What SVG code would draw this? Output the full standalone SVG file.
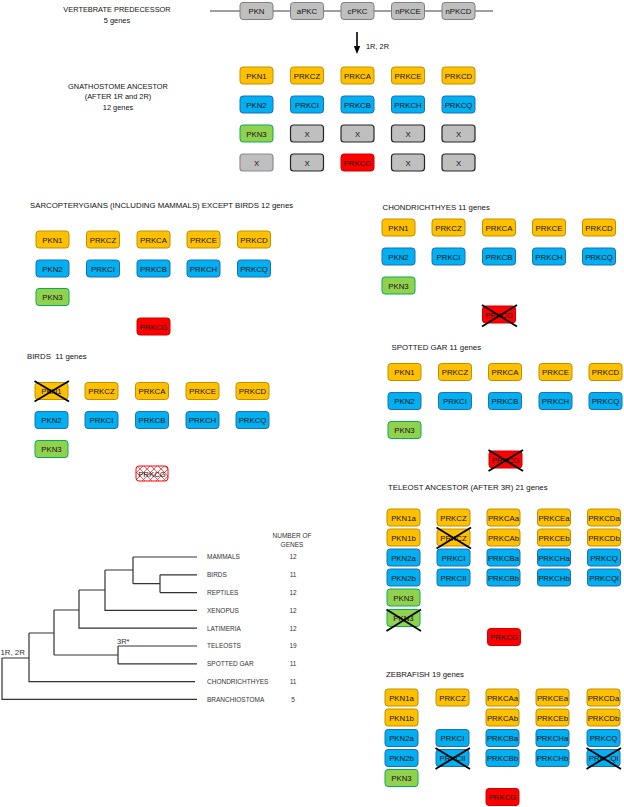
<svg xmlns="http://www.w3.org/2000/svg" width="624" height="807" viewBox="0 0 624 807">
<style>
.o{fill:#FFC000;stroke:#BF9000;stroke-width:1}
.b{fill:#00B0F0;stroke:#1F6FB5;stroke-width:1}
.g{fill:#92D050;stroke:#00B050;stroke-width:1}
.r{fill:#FF0000;stroke:#D00000;stroke-width:1}
.h{fill:url(#hatch);stroke:#FF0000;stroke-width:1}
.gr{fill:#BFBFBF;stroke:#7F7F7F;stroke-width:1}
.gx{fill:#BFBFBF;stroke:#262626;stroke-width:1.2}
.gl{fill:#BFBFBF;stroke:#8C8C8C;stroke-width:1.2}
text{font-family:"Liberation Sans",Arial,sans-serif}
.t{font-size:7.8px;text-anchor:middle;fill:#111}
.ti{font-size:7.8px;fill:#111;white-space:pre}
.tc{font-size:7.4px;fill:#111;text-anchor:middle}
.x{stroke:#000;stroke-width:1.8}
.tl{font-size:6.5px;fill:#333}
.tn{font-size:6.5px;fill:#333;text-anchor:middle}
.tr{fill:none;stroke:#333;stroke-width:1.2}
</style>
<defs>
<pattern id="hatch" width="7" height="7" patternUnits="userSpaceOnUse">
<rect width="7" height="7" fill="#fff"/>
<path d="M0,0 L7,7 M7,0 L0,7" stroke="#FF3030" stroke-width="0.8"/>
</pattern>
</defs>

<!-- Titles -->
<text class="tc" x="117" y="12">VERTEBRATE PREDECESSOR</text>
<text class="tc" x="117" y="22.5">5 genes</text>
<text class="tc" x="118" y="88.5">GNATHOSTOME ANCESTOR</text>
<text class="tc" x="118" y="99">(AFTER 1R and 2R)</text>
<text class="tc" x="118" y="110">12 genes</text>
<text class="ti" x="30" y="207.5">SARCOPTERYGIANS (INCLUDING MAMMALS) EXCEPT BIRDS 12 genes</text>
<text class="ti" x="27" y="358.5">BIRDS  11 genes</text>
<text class="ti" x="382.5" y="209.5">CHONDRICHTHYES 11 genes</text>
<text class="ti" x="391.5" y="349.5">SPOTTED GAR 11 genes</text>
<text class="ti" x="388" y="489.5">TELEOST ANCESTOR (AFTER 3R) 21 genes</text>
<text class="ti" x="386" y="677">ZEBRAFISH 19 genes</text>

<!-- Connectors -->
<g id="connectors">
<line x1="210" y1="11" x2="493" y2="11" stroke="#404040" stroke-width="1.2"/>
<line x1="357" y1="32" x2="357" y2="47" stroke="#000" stroke-width="1.6"/>
<polygon points="353.8,46 360.2,46 357,54" fill="#000"/>
<text x="366" y="48.5" style="font-size:7.4px;fill:#111">1R, 2R</text>
</g>

<!-- Vertebrate predecessor -->
<g id="vp-PKN"><rect class="gr" x="240" y="2.5" width="33" height="17" rx="3"/><text class="t" x="256.5" y="14">PKN</text></g>
<g id="vp-aPKC"><rect class="gr" x="290.5" y="2.5" width="33" height="17" rx="3"/><text class="t" x="307" y="14">aPKC</text></g>
<g id="vp-cPKC"><rect class="gr" x="341" y="2.5" width="33" height="17" rx="3"/><text class="t" x="357.5" y="14">cPKC</text></g>
<g id="vp-nPKCE"><rect class="gr" x="391.5" y="2.5" width="33" height="17" rx="3"/><text class="t" x="408" y="14">nPKCE</text></g>
<g id="vp-nPKCD"><rect class="gr" x="442" y="2.5" width="33" height="17" rx="3"/><text class="t" x="458.5" y="14">nPKCD</text></g>

<!-- Gnathostome ancestor -->
<g id="gn-PKN1"><rect class="o" x="240" y="67" width="33" height="17" rx="3"/><text class="t" x="256.5" y="78.5">PKN1</text></g>
<g id="gn-PRKCZ"><rect class="o" x="290.5" y="67" width="33" height="17" rx="3"/><text class="t" x="307" y="78.5">PRKCZ</text></g>
<g id="gn-PRKCA"><rect class="o" x="341" y="67" width="33" height="17" rx="3"/><text class="t" x="357.5" y="78.5">PRKCA</text></g>
<g id="gn-PRKCE"><rect class="o" x="391.5" y="67" width="33" height="17" rx="3"/><text class="t" x="408" y="78.5">PRKCE</text></g>
<g id="gn-PRKCD"><rect class="o" x="442" y="67" width="33" height="17" rx="3"/><text class="t" x="458.5" y="78.5">PRKCD</text></g>
<g id="gn-PKN2"><rect class="b" x="240" y="96" width="33" height="17" rx="3"/><text class="t" x="256.5" y="107.5">PKN2</text></g>
<g id="gn-PRKCI"><rect class="b" x="290.5" y="96" width="33" height="17" rx="3"/><text class="t" x="307" y="107.5">PRKCI</text></g>
<g id="gn-PRKCB"><rect class="b" x="341" y="96" width="33" height="17" rx="3"/><text class="t" x="357.5" y="107.5">PRKCB</text></g>
<g id="gn-PRKCH"><rect class="b" x="391.5" y="96" width="33" height="17" rx="3"/><text class="t" x="408" y="107.5">PRKCH</text></g>
<g id="gn-PRKCQ"><rect class="b" x="442" y="96" width="33" height="17" rx="3"/><text class="t" x="458.5" y="107.5">PRKCQ</text></g>
<g id="gn-PKN3"><rect class="g" x="240" y="125" width="33" height="17" rx="3"/><text class="t" x="256.5" y="136.5">PKN3</text></g>
<g id="gn-x1"><rect class="gx" x="290.5" y="125" width="33" height="17" rx="3"/><text class="t" x="307" y="136.5">X</text></g>
<g id="gn-x2"><rect class="gx" x="341" y="125" width="33" height="17" rx="3"/><text class="t" x="357.5" y="136.5">X</text></g>
<g id="gn-x3"><rect class="gx" x="391.5" y="125" width="33" height="17" rx="3"/><text class="t" x="408" y="136.5">X</text></g>
<g id="gn-x4"><rect class="gx" x="442" y="125" width="33" height="17" rx="3"/><text class="t" x="458.5" y="136.5">X</text></g>
<g id="gn-x5"><rect class="gl" x="240" y="154" width="33" height="17" rx="3"/><text class="t" x="256.5" y="165.5">X</text></g>
<g id="gn-x6"><rect class="gx" x="290.5" y="154" width="33" height="17" rx="3"/><text class="t" x="307" y="165.5">X</text></g>
<g id="gn-PRKCG"><rect class="r" x="341" y="154" width="33" height="17" rx="3"/><text class="t" x="357.5" y="165.5">PRKCG</text></g>
<g id="gn-x7"><rect class="gx" x="391.5" y="154" width="33" height="17" rx="3"/><text class="t" x="408" y="165.5">X</text></g>
<g id="gn-x8"><rect class="gx" x="442" y="154" width="33" height="17" rx="3"/><text class="t" x="458.5" y="165.5">X</text></g>

<!-- Sarcopterygians -->
<g id="sa-PKN1"><rect class="o" x="36" y="231" width="33" height="17" rx="3"/><text class="t" x="52.5" y="242.5">PKN1</text></g>
<g id="sa-PRKCZ"><rect class="o" x="86.5" y="231" width="33" height="17" rx="3"/><text class="t" x="103" y="242.5">PRKCZ</text></g>
<g id="sa-PRKCA"><rect class="o" x="137" y="231" width="33" height="17" rx="3"/><text class="t" x="153.5" y="242.5">PRKCA</text></g>
<g id="sa-PRKCE"><rect class="o" x="187" y="231" width="33" height="17" rx="3"/><text class="t" x="203.5" y="242.5">PRKCE</text></g>
<g id="sa-PRKCD"><rect class="o" x="237.5" y="231" width="33" height="17" rx="3"/><text class="t" x="254" y="242.5">PRKCD</text></g>
<g id="sa-PKN2"><rect class="b" x="36" y="260" width="33" height="17" rx="3"/><text class="t" x="52.5" y="271.5">PKN2</text></g>
<g id="sa-PRKCI"><rect class="b" x="86.5" y="260" width="33" height="17" rx="3"/><text class="t" x="103" y="271.5">PRKCI</text></g>
<g id="sa-PRKCB"><rect class="b" x="137" y="260" width="33" height="17" rx="3"/><text class="t" x="153.5" y="271.5">PRKCB</text></g>
<g id="sa-PRKCH"><rect class="b" x="187" y="260" width="33" height="17" rx="3"/><text class="t" x="203.5" y="271.5">PRKCH</text></g>
<g id="sa-PRKCQ"><rect class="b" x="237.5" y="260" width="33" height="17" rx="3"/><text class="t" x="254" y="271.5">PRKCQ</text></g>
<g id="sa-PKN3"><rect class="g" x="36" y="288.5" width="33" height="17" rx="3"/><text class="t" x="52.5" y="300">PKN3</text></g>
<g id="sa-PRKCG"><rect class="r" x="137" y="318" width="33" height="17" rx="3"/><text class="t" x="153.5" y="329.5">PRKCG</text></g>

<!-- Birds -->
<g id="bi-PKN1"><rect class="o" x="35" y="382.5" width="33" height="17" rx="3"/><text class="t" x="51.5" y="394">PKN1</text><line class="x" x1="34.5" y1="381" x2="69" y2="401.5"/><line class="x" x1="34.5" y1="401.5" x2="69" y2="381"/></g>
<g id="bi-PRKCZ"><rect class="o" x="85" y="382.5" width="33" height="17" rx="3"/><text class="t" x="101.5" y="394">PRKCZ</text></g>
<g id="bi-PRKCA"><rect class="o" x="135.5" y="382.5" width="33" height="17" rx="3"/><text class="t" x="152" y="394">PRKCA</text></g>
<g id="bi-PRKCE"><rect class="o" x="186" y="382.5" width="33" height="17" rx="3"/><text class="t" x="202.5" y="394">PRKCE</text></g>
<g id="bi-PRKCD"><rect class="o" x="236" y="382.5" width="33" height="17" rx="3"/><text class="t" x="252.5" y="394">PRKCD</text></g>
<g id="bi-PKN2"><rect class="b" x="35" y="411.5" width="33" height="17" rx="3"/><text class="t" x="51.5" y="423">PKN2</text></g>
<g id="bi-PRKCI"><rect class="b" x="85" y="411.5" width="33" height="17" rx="3"/><text class="t" x="101.5" y="423">PRKCI</text></g>
<g id="bi-PRKCB"><rect class="b" x="135.5" y="411.5" width="33" height="17" rx="3"/><text class="t" x="152" y="423">PRKCB</text></g>
<g id="bi-PRKCH"><rect class="b" x="186" y="411.5" width="33" height="17" rx="3"/><text class="t" x="202.5" y="423">PRKCH</text></g>
<g id="bi-PRKCQ"><rect class="b" x="236" y="411.5" width="33" height="17" rx="3"/><text class="t" x="252.5" y="423">PRKCQ</text></g>
<g id="bi-PKN3"><rect class="g" x="35" y="440.5" width="33" height="17" rx="3"/><text class="t" x="51.5" y="452">PKN3</text></g>
<g id="bi-PRKCG"><rect class="h" x="136" y="466" width="32" height="15" rx="3"/><text class="t" x="152" y="476.5">PRKCG</text></g>

<!-- Chondrichthyes -->
<g id="ch-PKN1"><rect class="o" x="382" y="219" width="33" height="17" rx="3"/><text class="t" x="398.5" y="230.5">PKN1</text></g>
<g id="ch-PRKCZ"><rect class="o" x="432" y="219" width="33" height="17" rx="3"/><text class="t" x="448.5" y="230.5">PRKCZ</text></g>
<g id="ch-PRKCA"><rect class="o" x="482.5" y="219" width="33" height="17" rx="3"/><text class="t" x="499" y="230.5">PRKCA</text></g>
<g id="ch-PRKCE"><rect class="o" x="532.5" y="219" width="33" height="17" rx="3"/><text class="t" x="549" y="230.5">PRKCE</text></g>
<g id="ch-PRKCD"><rect class="o" x="582.5" y="219" width="33" height="17" rx="3"/><text class="t" x="599" y="230.5">PRKCD</text></g>
<g id="ch-PKN2"><rect class="b" x="382" y="248" width="33" height="17" rx="3"/><text class="t" x="398.5" y="259.5">PKN2</text></g>
<g id="ch-PRKCI"><rect class="b" x="432" y="248" width="33" height="17" rx="3"/><text class="t" x="448.5" y="259.5">PRKCI</text></g>
<g id="ch-PRKCB"><rect class="b" x="482.5" y="248" width="33" height="17" rx="3"/><text class="t" x="499" y="259.5">PRKCB</text></g>
<g id="ch-PRKCH"><rect class="b" x="532.5" y="248" width="33" height="17" rx="3"/><text class="t" x="549" y="259.5">PRKCH</text></g>
<g id="ch-PRKCQ"><rect class="b" x="582.5" y="248" width="33" height="17" rx="3"/><text class="t" x="599" y="259.5">PRKCQ</text></g>
<g id="ch-PKN3"><rect class="g" x="382" y="277" width="33" height="17" rx="3"/><text class="t" x="398.5" y="288.5">PKN3</text></g>
<g id="ch-PRKCG"><rect class="r" x="482.5" y="306" width="33" height="17" rx="3"/><text class="t" x="499" y="317.5">PRKCG</text><line class="x" x1="482" y1="305" x2="517" y2="326.5"/><line class="x" x1="482" y1="326.5" x2="517" y2="305"/></g>

<!-- Spotted gar -->
<g id="sg-PKN1"><rect class="o" x="388" y="363.5" width="33" height="17" rx="3"/><text class="t" x="404.5" y="375">PKN1</text></g>
<g id="sg-PRKCZ"><rect class="o" x="438.5" y="363.5" width="33" height="17" rx="3"/><text class="t" x="455" y="375">PRKCZ</text></g>
<g id="sg-PRKCA"><rect class="o" x="488.5" y="363.5" width="33" height="17" rx="3"/><text class="t" x="505" y="375">PRKCA</text></g>
<g id="sg-PRKCE"><rect class="o" x="539" y="363.5" width="33" height="17" rx="3"/><text class="t" x="555.5" y="375">PRKCE</text></g>
<g id="sg-PRKCD"><rect class="o" x="589" y="363.5" width="33" height="17" rx="3"/><text class="t" x="605.5" y="375">PRKCD</text></g>
<g id="sg-PKN2"><rect class="b" x="388" y="392.5" width="33" height="17" rx="3"/><text class="t" x="404.5" y="404">PKN2</text></g>
<g id="sg-PRKCI"><rect class="b" x="438.5" y="392.5" width="33" height="17" rx="3"/><text class="t" x="455" y="404">PRKCI</text></g>
<g id="sg-PRKCB"><rect class="b" x="488.5" y="392.5" width="33" height="17" rx="3"/><text class="t" x="505" y="404">PRKCB</text></g>
<g id="sg-PRKCH"><rect class="b" x="539" y="392.5" width="33" height="17" rx="3"/><text class="t" x="555.5" y="404">PRKCH</text></g>
<g id="sg-PRKCQ"><rect class="b" x="589" y="392.5" width="33" height="17" rx="3"/><text class="t" x="605.5" y="404">PRKCQ</text></g>
<g id="sg-PKN3"><rect class="g" x="388" y="421.5" width="33" height="17" rx="3"/><text class="t" x="404.5" y="433">PKN3</text></g>
<g id="sg-PRKCG"><rect class="r" x="489" y="451" width="33" height="17" rx="3"/><text class="t" x="505.5" y="462.5">PRKCG</text><line class="x" x1="488.5" y1="450" x2="523" y2="471"/><line class="x" x1="488.5" y1="471" x2="523" y2="450"/></g>

<!-- Teleost ancestor -->
<g id="te-PKN1a"><rect class="o" x="387" y="509" width="33" height="17" rx="3"/><text class="t" x="403.5" y="520.5">PKN1a</text></g>
<g id="te-PRKCZ"><rect class="o" x="437" y="509" width="33" height="17" rx="3"/><text class="t" x="453.5" y="520.5">PRKCZ</text></g>
<g id="te-PRKCAa"><rect class="o" x="487" y="509" width="33" height="17" rx="3"/><text class="t" x="503.5" y="520.5">PRKCAa</text></g>
<g id="te-PRKCEa"><rect class="o" x="537.5" y="509" width="33" height="17" rx="3"/><text class="t" x="554" y="520.5">PRKCEa</text></g>
<g id="te-PRKCDa"><rect class="o" x="587.5" y="509" width="33" height="17" rx="3"/><text class="t" x="604" y="520.5">PRKCDa</text></g>
<g id="te-PKN1b"><rect class="o" x="387" y="529" width="33" height="17" rx="3"/><text class="t" x="403.5" y="540.5">PKN1b</text></g>
<g id="te-PRKCZ2"><rect class="o" x="437" y="529" width="33" height="17" rx="3"/><text class="t" x="453.5" y="540.5">PRKCZ</text><line class="x" x1="436.5" y1="527.5" x2="471" y2="548.5"/><line class="x" x1="436.5" y1="548.5" x2="471" y2="527.5"/></g>
<g id="te-PRKCAb"><rect class="o" x="487" y="529" width="33" height="17" rx="3"/><text class="t" x="503.5" y="540.5">PRKCAb</text></g>
<g id="te-PRKCEb"><rect class="o" x="537.5" y="529" width="33" height="17" rx="3"/><text class="t" x="554" y="540.5">PRKCEb</text></g>
<g id="te-PRKCDb"><rect class="o" x="587.5" y="529" width="33" height="17" rx="3"/><text class="t" x="604" y="540.5">PRKCDb</text></g>
<g id="te-PKN2a"><rect class="b" x="387" y="549" width="33" height="17" rx="3"/><text class="t" x="403.5" y="560.5">PKN2a</text></g>
<g id="te-PRKCI"><rect class="b" x="437" y="549" width="33" height="17" rx="3"/><text class="t" x="453.5" y="560.5">PRKCI</text></g>
<g id="te-PRKCBa"><rect class="b" x="487" y="549" width="33" height="17" rx="3"/><text class="t" x="503.5" y="560.5">PRKCBa</text></g>
<g id="te-PRKCHa"><rect class="b" x="537.5" y="549" width="33" height="17" rx="3"/><text class="t" x="554" y="560.5">PRKCHa</text></g>
<g id="te-PRKCQ"><rect class="b" x="587.5" y="549" width="33" height="17" rx="3"/><text class="t" x="604" y="560.5">PRKCQ</text></g>
<g id="te-PKN2b"><rect class="b" x="387" y="569" width="33" height="17" rx="3"/><text class="t" x="403.5" y="580.5">PKN2b</text></g>
<g id="te-PRKCII"><rect class="b" x="437" y="569" width="33" height="17" rx="3"/><text class="t" x="453.5" y="580.5">PRKCII</text></g>
<g id="te-PRKCBb"><rect class="b" x="487" y="569" width="33" height="17" rx="3"/><text class="t" x="503.5" y="580.5">PRKCBb</text></g>
<g id="te-PRKCHb"><rect class="b" x="537.5" y="569" width="33" height="17" rx="3"/><text class="t" x="554" y="580.5">PRKCHb</text></g>
<g id="te-PRKCQl"><rect class="b" x="587.5" y="569" width="33" height="17" rx="3"/><text class="t" x="604" y="580.5">PRKCQl</text></g>
<g id="te-PKN3"><rect class="g" x="387" y="589" width="33" height="17" rx="3"/><text class="t" x="403.5" y="600.5">PKN3</text></g>
<g id="te-PKN3b"><rect class="g" x="387" y="609.5" width="33" height="17" rx="3"/><text class="t" x="403.5" y="621">PKN3</text><line class="x" x1="386.5" y1="609.5" x2="421" y2="631"/><line class="x" x1="386.5" y1="631" x2="421" y2="609.5"/></g>
<g id="te-PRKCG"><rect class="r" x="487.5" y="628.5" width="33" height="17" rx="3"/><text class="t" x="504" y="640">PRKCG</text></g>

<!-- Zebrafish -->
<g id="zf-PKN1a"><rect class="o" x="385" y="689" width="33" height="17" rx="3"/><text class="t" x="401.5" y="700.5">PKN1a</text></g>
<g id="zf-PRKCZ"><rect class="o" x="436" y="689" width="33" height="17" rx="3"/><text class="t" x="452.5" y="700.5">PRKCZ</text></g>
<g id="zf-PRKCAa"><rect class="o" x="486" y="689" width="33" height="17" rx="3"/><text class="t" x="502.5" y="700.5">PRKCAa</text></g>
<g id="zf-PRKCEa"><rect class="o" x="536" y="689" width="33" height="17" rx="3"/><text class="t" x="552.5" y="700.5">PRKCEa</text></g>
<g id="zf-PRKCDa"><rect class="o" x="587" y="689" width="33" height="17" rx="3"/><text class="t" x="603.5" y="700.5">PRKCDa</text></g>
<g id="zf-PKN1b"><rect class="o" x="385" y="709" width="33" height="17" rx="3"/><text class="t" x="401.5" y="720.5">PKN1b</text></g>
<g id="zf-PRKCAb"><rect class="o" x="486" y="709" width="33" height="17" rx="3"/><text class="t" x="502.5" y="720.5">PRKCAb</text></g>
<g id="zf-PRKCEb"><rect class="o" x="536" y="709" width="33" height="17" rx="3"/><text class="t" x="552.5" y="720.5">PRKCEb</text></g>
<g id="zf-PRKCDb"><rect class="o" x="587" y="709" width="33" height="17" rx="3"/><text class="t" x="603.5" y="720.5">PRKCDb</text></g>
<g id="zf-PKN2a"><rect class="b" x="385" y="729.5" width="33" height="17" rx="3"/><text class="t" x="401.5" y="741">PKN2a</text></g>
<g id="zf-PRKCI"><rect class="b" x="436" y="729.5" width="33" height="17" rx="3"/><text class="t" x="452.5" y="741">PRKCI</text></g>
<g id="zf-PRKCBa"><rect class="b" x="486" y="729.5" width="33" height="17" rx="3"/><text class="t" x="502.5" y="741">PRKCBa</text></g>
<g id="zf-PRKCHa"><rect class="b" x="536" y="729.5" width="33" height="17" rx="3"/><text class="t" x="552.5" y="741">PRKCHa</text></g>
<g id="zf-PRKCQ"><rect class="b" x="587" y="729.5" width="33" height="17" rx="3"/><text class="t" x="603.5" y="741">PRKCQ</text></g>
<g id="zf-PKN2b"><rect class="b" x="385" y="749.5" width="33" height="17" rx="3"/><text class="t" x="401.5" y="761">PKN2b</text></g>
<g id="zf-PRKCII"><rect class="b" x="436" y="749.5" width="33" height="17" rx="3"/><text class="t" x="452.5" y="761">PRKCII</text><line class="x" x1="435.5" y1="748" x2="470" y2="769"/><line class="x" x1="435.5" y1="769" x2="470" y2="748"/></g>
<g id="zf-PRKCBb"><rect class="b" x="486" y="749.5" width="33" height="17" rx="3"/><text class="t" x="502.5" y="761">PRKCBb</text></g>
<g id="zf-PRKCHb"><rect class="b" x="536" y="749.5" width="33" height="17" rx="3"/><text class="t" x="552.5" y="761">PRKCHb</text></g>
<g id="zf-PRKCQl"><rect class="b" x="587" y="749.5" width="33" height="17" rx="3"/><text class="t" x="603.5" y="761">PRKCQl</text><line class="x" x1="586.5" y1="748" x2="621" y2="769"/><line class="x" x1="586.5" y1="769" x2="621" y2="748"/></g>
<g id="zf-PKN3"><rect class="g" x="385" y="769.5" width="33" height="17" rx="3"/><text class="t" x="401.5" y="781">PKN3</text></g>
<g id="zf-PRKCG"><rect class="r" x="486" y="788.5" width="33" height="17" rx="3"/><text class="t" x="502.5" y="800">PRKCG</text></g>

<!-- Tree -->
<g id="tree">
<path class="tr" d="M133,557 H197 M160,574.8 H197 M160,592.6 H197 M160,574.8 V592.6 M133,583.7 H160 M133,557 V583.7 M105,570 H133 M105,570 V610.4 H197 M79,590 H105 M79,590 V628.2 H197 M54,610 H79 M118,646 H197 M118,663.8 H197 M118,646 V663.8 M54,655 H118 M54,610 V655 M29,633 H54 M29,633 V681.6 H195 M2,658 H29 M2,658 V699.4 H197"/>
<text x="117" y="643.5" style="font-size:7.5px;fill:#333">3R*</text>
<text x="0.5" y="654.5" style="font-size:7.8px;fill:#333">1R, 2R</text>
<text class="tn" x="292" y="538">NUMBER OF</text>
<text class="tn" x="292" y="546.5">GENES</text>
<text class="tl" x="207" y="559.3">MAMMALS</text><text class="tn" x="293" y="559.3">12</text>
<text class="tl" x="207" y="577.1">BIRDS</text><text class="tn" x="293" y="577.1">11</text>
<text class="tl" x="207" y="594.9">REPTILES</text><text class="tn" x="293" y="594.9">12</text>
<text class="tl" x="207" y="612.7">XENOPUS</text><text class="tn" x="293" y="612.7">12</text>
<text class="tl" x="207" y="630.5">LATIMERIA</text><text class="tn" x="293" y="630.5">12</text>
<text class="tl" x="207" y="648.3">TELEOSTS</text><text class="tn" x="293" y="648.3">19</text>
<text class="tl" x="207" y="666.1">SPOTTED GAR</text><text class="tn" x="293" y="666.1">11</text>
<text class="tl" x="207" y="683.9">CHONDRICHTHYES</text><text class="tn" x="293" y="683.9">11</text>
<text class="tl" x="207" y="701.7">BRANCHIOSTOMA</text><text class="tn" x="293" y="701.7">5</text>
</g>
</svg>
